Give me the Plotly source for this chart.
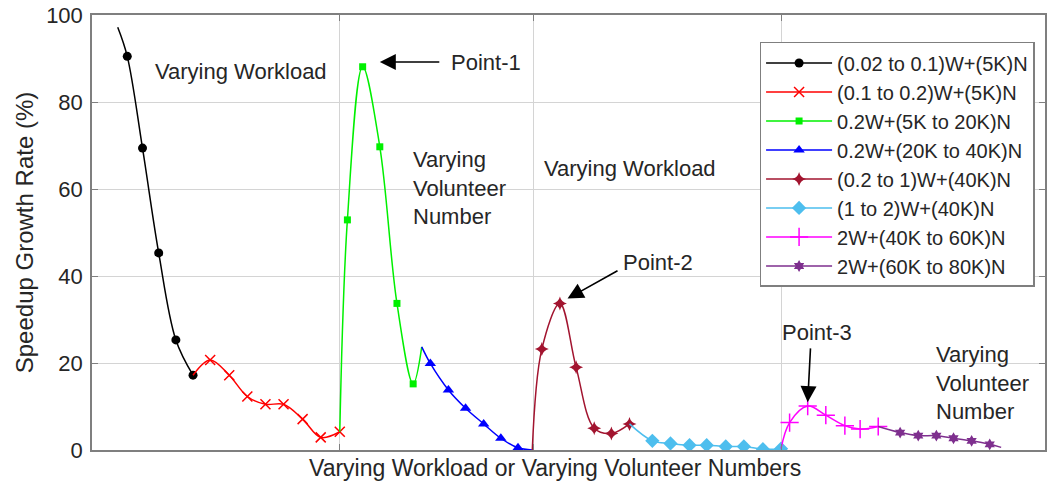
import plotly.graph_objects as go

# Speedup growth rate (%) for each experiment stage; x is the stage position
BLACK_X = [3.7, 5.3, 7.0, 8.8, 10.6]
BLACK_Y = [90.5, 69.4, 45.3, 25.3, 17.2]

RED_X = [12.4, 14.4, 16.3, 18.2, 20.1, 22.1, 24.0, 26.0]
RED_Y = [20.7, 17.2, 12.3, 10.5, 10.5, 7.1, 2.9, 4.2]

GREEN_X = [26.8, 28.4, 30.2, 32.0, 33.7]
GREEN_Y = [52.9, 88.1, 69.7, 33.7, 15.2]

BLUE_X = [35.5, 37.4, 39.2, 41.1, 42.9, 44.7]
BLUE_Y = [19.9, 13.8, 9.6, 6.0, 2.7, 0.5]

BROWN_X = [47.2, 49.1, 50.8, 52.7, 54.5, 56.4]
BROWN_Y = [23.2, 33.7, 19.0, 5.0, 3.8, 6.0]

CYAN_X = [58.8, 60.7, 62.7, 64.5, 66.5, 68.4, 70.4, 72.3]
CYAN_Y = [2.1, 1.5, 1.1, 1.1, 0.8, 0.8, 0.2, 0.3]

MAGENTA_X = [73.2, 75.1, 77.0, 79.0, 80.6, 82.5]
MAGENTA_Y = [6.3, 10.1, 8.0, 5.6, 4.8, 5.4]

PURPLE_X = [84.8, 86.7, 88.6, 90.4, 92.3, 94.2]
PURPLE_Y = [4.0, 3.3, 3.3, 2.7, 2.1, 1.3]

# Curve knots that carry no marker (start of the first stage, stage joints, end)
BLACK_LEAD_X, BLACK_LEAD_Y = [2.7], [97.2]
GREEN_TAIL_X, GREEN_TAIL_Y = [34.6], [23.7]
BLUE_TAIL_X, BLUE_TAIL_Y = [46.2], [0.0]
PURPLE_TAIL_X, PURPLE_TAIL_Y = [95.4], [0.6]

LABELS = [
    "(0.02 to 0.1)W+(5K)N",
    "(0.1 to 0.2)W+(5K)N",
    "0.2W+(5K to 20K)N",
    "0.2W+(20K to 40K)N",
    "(0.2 to 1)W+(40K)N",
    "(1 to 2)W+(40K)N",
    "2W+(40K to 60K)N",
    "2W+(60K to 80K)N",
]

STAGE_TICKS = [26.0, 46.3, 72.3]

FONT = "Liberation Sans, Arial, sans-serif"
TEXT_COLOR = "#262626"

styles = [
    dict(color="#000000", symbol="circle", size=9),
    dict(color="#ff0000", symbol="x-thin", size=10),
    dict(color="#00f000", symbol="square", size=7),
    dict(color="#0000ff", symbol="triangle-up", size=10),
    dict(color="#a2142f", symbol="star-diamond", size=10),
    dict(color="#4dbeee", symbol="diamond", size=11),
    dict(color="#ff00ff", symbol="cross-thin", size=13),
    dict(color="#7e2f8e", symbol="hexagram", size=9),
]

stages = [
    (BLACK_X, BLACK_Y, BLACK_LEAD_X, BLACK_LEAD_Y, [], []),
    (RED_X, RED_Y, [], [], [], []),
    (GREEN_X, GREEN_Y, [], [], GREEN_TAIL_X, GREEN_TAIL_Y),
    (BLUE_X, BLUE_Y, [], [], BLUE_TAIL_X, BLUE_TAIL_Y),
    (BROWN_X, BROWN_Y, [], [], [], []),
    (CYAN_X, CYAN_Y, [], [], [], []),
    (MAGENTA_X, MAGENTA_Y, [], [], [], []),
    (PURPLE_X, PURPLE_Y, [], [], PURPLE_TAIL_X, PURPLE_TAIL_Y),
]

fig = go.Figure()

prev_end = None
for (mx, my, lx, ly, tx, ty), st, name in zip(stages, styles, LABELS):
    cx = list(lx) + list(mx) + list(tx)
    cy = list(ly) + list(my) + list(ty)
    if prev_end is not None:
        cx = [prev_end[0]] + cx
        cy = [prev_end[1]] + cy
    prev_end = (cx[-1], cy[-1])
    thin = st["symbol"].endswith("-thin")
    marker = dict(color=st["color"], symbol=st["symbol"], size=st["size"],
                  line=dict(color=st["color"], width=1.5 if thin else 0))
    # smooth curve through the stage
    fig.add_trace(go.Scatter(x=cx, y=cy, mode="lines",
                             line=dict(color=st["color"], width=1.5, shape="spline", smoothing=1.0),
                             showlegend=False, legendgroup=name, hoverinfo="skip"))
    # markers on the measured points
    fig.add_trace(go.Scatter(x=mx, y=my, mode="markers", marker=marker, showlegend=False,
                             legendgroup=name, name=name))
    # legend entry
    fig.add_trace(go.Scatter(x=[None], y=[None], mode="lines+markers", name=name, legendgroup=name,
                             line=dict(color=st["color"], width=1.5), marker=marker))

text_font = dict(family=FONT, size=22, color=TEXT_COLOR)
annotations = [
    dict(x=15.6, y=86.9, text="Varying Workload", xanchor="center", yanchor="middle"),
    dict(x=41.3, y=89.0, text="Point-1", xanchor="center", yanchor="middle"),
    dict(x=33.5, y=60.2, text="Varying<br>Volunteer<br>Number", xanchor="left", yanchor="middle", align="left"),
    dict(x=47.2, y=64.8, text="Varying Workload", xanchor="left", yanchor="middle"),
    dict(x=59.4, y=43.2, text="Point-2", xanchor="center", yanchor="middle"),
    dict(x=76.1, y=26.9, text="Point-3", xanchor="center", yanchor="middle"),
    dict(x=88.3, y=15.4, text="Varying<br>Volunteer<br>Number", xanchor="left", yanchor="middle", align="left"),
]
for a in annotations:
    a.update(xref="x", yref="y", showarrow=False, font=text_font)

# x-axis caption
annotations.append(dict(x=0.486, y=-0.0414, xref="paper", yref="paper", xanchor="center",
                        yanchor="middle", showarrow=False,
                        text="Varying Workload or Varying Volunteer Numbers",
                        font=dict(family=FONT, size=23, color=TEXT_COLOR)))

arrows = [
    ((36.6, 89.2), (30.2, 89.2)),
    ((55.3, 41.4), (49.9, 34.8)),
    ((75.4, 23.7), (75.1, 11.0)),
]
for tail, tip in arrows:
    annotations.append(dict(x=tip[0], y=tip[1], ax=tail[0], ay=tail[1], xref="x", yref="y",
                            axref="x", ayref="y", text="", showarrow=True, arrowhead=2,
                            arrowsize=2.0, arrowwidth=1.6, arrowcolor="#000000"))

axis_common = dict(showline=True, linecolor="#7f7f7f", linewidth=1.5, mirror="ticks",
                   ticks="inside", ticklen=6, tickcolor="#7f7f7f",
                   showgrid=True, gridcolor="#d4d4d4", gridwidth=1, zeroline=False)

fig.update_layout(
    width=1050, height=494,
    margin=dict(l=92, r=3, t=15, b=44),
    paper_bgcolor="white", plot_bgcolor="white",
    font=dict(family=FONT, color=TEXT_COLOR),
    annotations=annotations,
    xaxis=dict(range=[0, 100], tickvals=STAGE_TICKS, showticklabels=False, **axis_common),
    yaxis=dict(range=[0, 100], tickvals=[0, 20, 40, 60, 80, 100],
               tickfont=dict(family=FONT, size=22, color=TEXT_COLOR), ticklabelstandoff=3,
               title=dict(text="Speedup Growth Rate (%)",
                          font=dict(family=FONT, size=24, color=TEXT_COLOR), standoff=6),
               **axis_common),
    legend=dict(x=0.7005, y=0.938, xanchor="left", yanchor="top",
                bgcolor="white", bordercolor="#7f7f7f", borderwidth=1.5,
                font=dict(family=FONT, size=20, color=TEXT_COLOR),
                tracegroupgap=0, itemwidth=66),
)

fig.write_html("out.html")
